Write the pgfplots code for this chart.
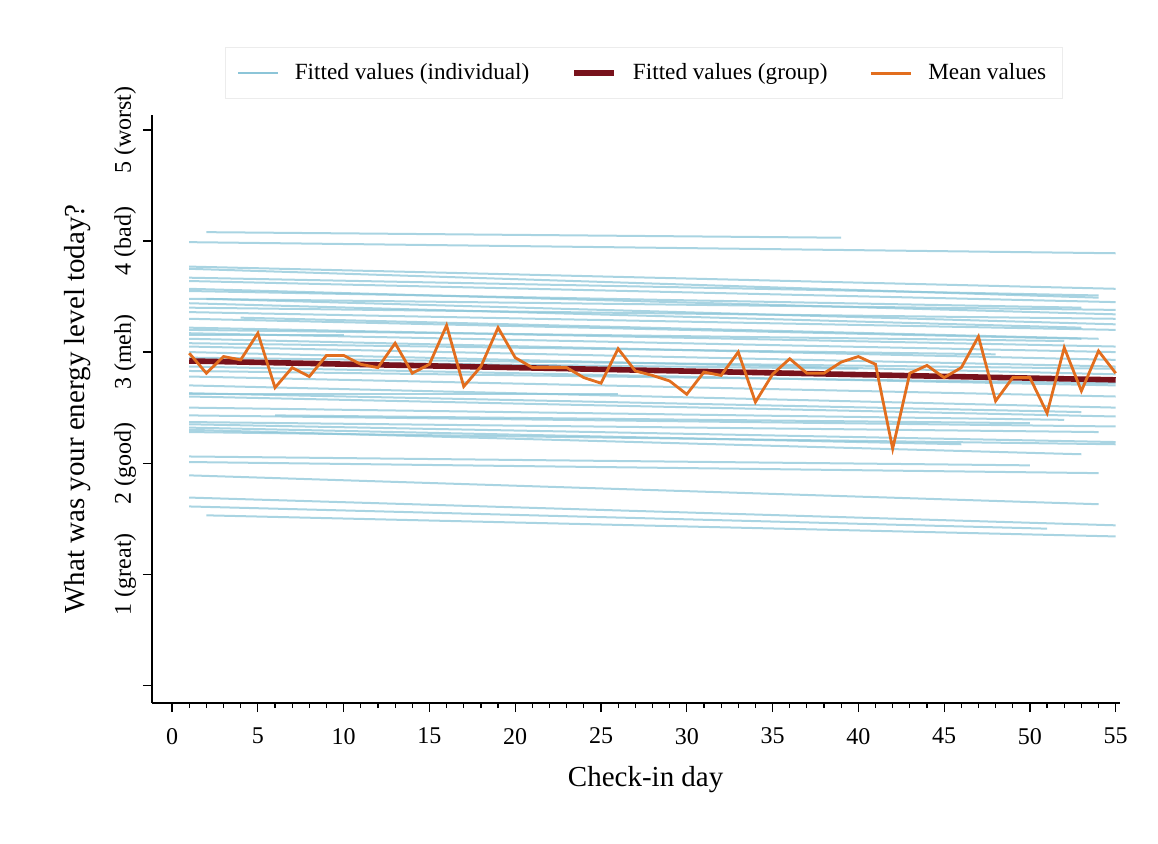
\documentclass[border=0pt]{standalone}
\usepackage{pgfplots}
\pgfplotsset{compat=1.18}
\usepackage{fontspec}
\setmainfont{Liberation Serif}

\definecolor{indiv}{RGB}{140,197,216}
\definecolor{group}{RGB}{120,18,28}
\definecolor{meanc}{RGB}{226,110,30}

\pgfplotsset{indiv line/.style={indiv, opacity=0.75, line width=1pt, forget plot, no markers}}

\begin{document}
\begin{tikzpicture}
\begin{axis}[
  scale only axis,
  width=484pt, height=294pt,
  axis x line*=bottom, axis y line*=left,
  axis line style={black, line width=0.6pt},
  xmin=-1.17, xmax=55.25,
  ymin=-0.16, ymax=5.135,
  xtick={0,5,...,55},
  minor x tick num=4,
  ytick={0,1,2,3,4,5},
  yticklabels={,1 (great),2 (good),3 (meh),4 (bad),5 (worst)},
  tick align=outside,
  major tick length=4.5pt,
  minor tick length=2.5pt,
  tick style={black, line width=0.6pt},
  /pgf/number format/assume math mode=true,
  tick label style={font=\fontsize{12}{14}\selectfont},
  xticklabel style={yshift=-4.5pt},
  yticklabel style={rotate=90, anchor=south},
  xlabel={Check-in day},
  ylabel={What was your energy level today?},
  label style={font=\fontsize{14.5}{17}\selectfont},
  xlabel style={at={(axis description cs:0.51,-0.131)}, anchor=center},
  ylabel style={at={(axis description cs:-0.0764,0.5)}, anchor=center},
  legend style={at={(0.508,1.071)}, anchor=center, legend columns=3,
    draw=gray!15, font=\fontsize{11.6}{13.5}\selectfont,
    inner xsep=6pt, inner ysep=6pt,
    /tikz/every odd column/.append style={column sep=6pt},
    /tikz/every even column/.append style={column sep=19pt}},
  legend cell align=left,
  legend image code/.code={\draw[#1] (0pt,0pt) -- (20pt,0pt);},
  clip=false,
]
\addlegendimage{indiv, line width=0.8pt}
\addlegendentry{Fitted values (individual)}

\addplot[indiv line] coordinates {(2,4.08) (39,4.03)};
\addplot[indiv line] coordinates {(1,3.99) (55,3.89)};
\addplot[indiv line] coordinates {(1,3.77) (55,3.57)};
\addplot[indiv line] coordinates {(1,3.75) (54,3.49)};
\addplot[indiv line] coordinates {(1,3.67) (54,3.51)};
\addplot[indiv line] coordinates {(1,3.64) (55,3.45)};
\addplot[indiv line] coordinates {(1,3.57) (55,3.34)};
\addplot[indiv line] coordinates {(1,3.55) (53,3.40)};
\addplot[indiv line] coordinates {(2,3.48) (55,3.25)};
\addplot[indiv line] coordinates {(1,3.48) (55,3.38)};
\addplot[indiv line] coordinates {(1,3.44) (53,3.22)};
\addplot[indiv line] coordinates {(1,3.40) (55,3.30)};
\addplot[indiv line] coordinates {(1,3.36) (55,3.20)};
\addplot[indiv line] coordinates {(4,3.31) (54,3.12)};
\addplot[indiv line] coordinates {(1,3.30) (53,3.12)};
\addplot[indiv line] coordinates {(1,3.22) (55,3.05)};
\addplot[indiv line] coordinates {(1,3.20) (52,3.10)};
\addplot[indiv line] coordinates {(1,3.17) (55,3.00)};
\addplot[indiv line] coordinates {(1,3.15) (10,3.15)};
\addplot[indiv line] coordinates {(1,3.12) (55,2.93)};
\addplot[indiv line] coordinates {(1,3.08) (48,2.98)};
\addplot[indiv line] coordinates {(1,3.05) (55,2.87)};
\addplot[indiv line] coordinates {(1,3.00) (55,2.80)};
\addplot[indiv line] coordinates {(1,2.95) (55,2.85)};
\addplot[indiv line] coordinates {(1,2.92) (40,2.85)};
\addplot[indiv line] coordinates {(1,2.87) (55,2.70)};
\addplot[indiv line] coordinates {(1,2.83) (55,2.72)};
\addplot[indiv line] coordinates {(1,2.78) (55,2.60)};
\addplot[indiv line] coordinates {(1,2.70) (55,2.50)};
\addplot[indiv line] coordinates {(1,2.63) (53,2.46)};
\addplot[indiv line] coordinates {(1,2.62) (26,2.62)};
\addplot[indiv line] coordinates {(1,2.60) (55,2.42)};
\addplot[indiv line] coordinates {(1,2.50) (52,2.39)};
\addplot[indiv line] coordinates {(6,2.43) (50,2.36)};
\addplot[indiv line] coordinates {(1,2.43) (55,2.33)};
\addplot[indiv line] coordinates {(1,2.37) (54,2.28)};
\addplot[indiv line] coordinates {(1,2.35) (55,2.19)};
\addplot[indiv line] coordinates {(1,2.32) (46,2.17)};
\addplot[indiv line] coordinates {(1,2.30) (53,2.08)};
\addplot[indiv line] coordinates {(1,2.28) (55,2.17)};
\addplot[indiv line] coordinates {(1,2.06) (50,1.98)};
\addplot[indiv line] coordinates {(1,2.01) (54,1.91)};
\addplot[indiv line] coordinates {(1,1.89) (54,1.63)};
\addplot[indiv line] coordinates {(1,1.69) (55,1.44)};
\addplot[indiv line] coordinates {(1,1.61) (51,1.41)};
\addplot[indiv line] coordinates {(2,1.53) (55,1.34)};

\addplot[group, line width=2.8pt, no markers] coordinates {(1,2.92) (55,2.75)};
\addlegendentry{Fitted values (group)}

\addplot[meanc, line width=1.4pt, line join=miter, no markers] coordinates {
 (1,2.99) (2,2.81) (3,2.96) (4,2.93) (5,3.17) (6,2.68) (7,2.86) (8,2.78)
 (9,2.97) (10,2.97) (11,2.89) (12,2.86) (13,3.08) (14,2.81) (15,2.89)
 (16,3.24) (17,2.69) (18,2.87) (19,3.22) (20,2.95) (21,2.86) (22,2.86)
 (23,2.86) (24,2.77) (25,2.72) (26,3.03) (27,2.83) (28,2.79) (29,2.74)
 (30,2.62) (31,2.82) (32,2.79) (33,3.00) (34,2.55) (35,2.80) (36,2.94)
 (37,2.81) (38,2.81) (39,2.91) (40,2.96) (41,2.89) (42,2.13) (43,2.81)
 (44,2.88) (45,2.77) (46,2.86) (47,3.14) (48,2.56) (49,2.77) (50,2.77)
 (51,2.45) (52,3.04) (53,2.65) (54,3.01) (55,2.81)
};
\addlegendentry{Mean values}
\end{axis}
\path[use as bounding box] (-76pt,-70pt) rectangle (503pt,351.5pt);
\end{tikzpicture}
\end{document}
